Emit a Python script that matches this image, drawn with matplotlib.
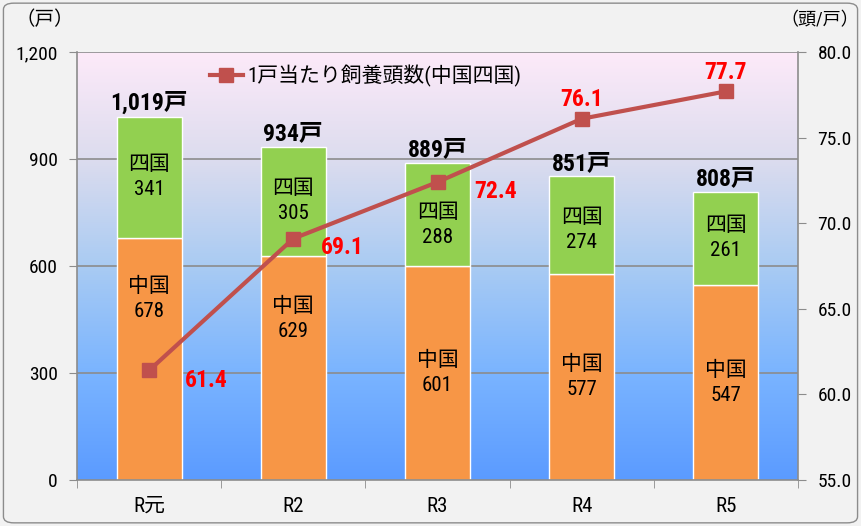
import matplotlib
matplotlib.use("Agg")
import matplotlib.pyplot as plt
import numpy as np
from matplotlib.patches import FancyBboxPatch
from matplotlib.colors import LinearSegmentedColormap
from matplotlib.ticker import FuncFormatter, FixedLocator
from matplotlib import font_manager

names = {f.name for f in font_manager.fontManager.ttflist}
NARROW = None
for cand in ['Liberation Sans Narrow', 'Roboto Condensed', 'Roboto']:
    if cand in names:
        NARROW = cand
        break
FAM = ([NARROW] if NARROW else []) + ['Noto Sans CJK JP', 'DejaVu Sans']
plt.rcParams['font.family'] = FAM

categories = ['R元', 'R2', 'R3', 'R4', 'R5']
chugoku = [678, 629, 601, 577, 547]
shikoku = [341, 305, 288, 274, 261]
totals = [1019, 934, 889, 851, 808]
per_farm = [61.4, 69.1, 72.4, 76.1, 77.7]

fig = plt.figure(figsize=(8.61, 5.26), dpi=100, facecolor='#f2f2f2')
border = FancyBboxPatch((0.004, 0.006), 0.992, 0.988, boxstyle="round,pad=0,rounding_size=0.012",
                        transform=fig.transFigure, facecolor='#f2f2f2', edgecolor='#8c8c8c', lw=1.0, zorder=-10)
fig.patches.append(border)

ax = fig.add_axes([77/861, 46/526, 721/861, 428/526])
ax.set_facecolor('none')
x = np.arange(len(categories))
ax.set_xlim(-0.5, len(categories) - 0.5)
ax.set_ylim(0, 1200)

cmap = LinearSegmentedColormap.from_list('bg', [(0, '#5b9bff'), (0.25, '#7ab4ff'), (0.5, '#a9cbf3'),
                                                (0.75, '#dcdcee'), (1, '#fdeaf9')])
grad = np.linspace(0, 1, 256).reshape(-1, 1)
ax.imshow(grad, extent=(-0.5, len(categories) - 0.5, 0, 1200), origin='lower', aspect='auto', cmap=cmap, zorder=0)

for yv in [300, 600, 900, 1200]:
    ax.axhline(yv, color='#8c8c8c', lw=1.2, zorder=1)

w = 0.45
ax.bar(x, chugoku, width=w, color='#f79646', edgecolor='white', lw=1, zorder=2)
ax.bar(x, shikoku, width=w, bottom=chugoku, color='#92d050', edgecolor='white', lw=1, zorder=2)

chu_label_y = [507, 451, None, None, None]
shi_label_y = [None, None, 715, 700, None]
for i in range(len(categories)):
    cy = chu_label_y[i] if chu_label_y[i] is not None else chugoku[i] / 2
    sy = shi_label_y[i] if shi_label_y[i] is not None else chugoku[i] + shikoku[i] / 2
    ax.text(x[i], cy, f'中国\n{chugoku[i]}', ha='center', va='center', fontsize=15,
            linespacing=1.4, zorder=3)
    ax.text(x[i], sy, f'四国\n{shikoku[i]}', ha='center', va='center', fontsize=15,
            linespacing=1.4, zorder=3)
    ax.text(x[i], totals[i] + 5, f'{totals[i]:,}戸', ha='center', va='bottom', fontsize=17,
            fontweight='bold', zorder=3)

ax.yaxis.set_major_locator(FixedLocator([0, 300, 600, 900, 1200]))
ax.yaxis.set_major_formatter(FuncFormatter(lambda v, p: f'{int(v):,}'))
ax.set_xticks(x)
ax.set_xticklabels(categories, fontsize=15)
ax.xaxis.set_minor_locator(FixedLocator(np.arange(-0.5, len(categories), 1)))
ax.tick_params(axis='x', which='major', length=0, pad=12)
ax.tick_params(axis='x', which='minor', length=6, color='#8c8c8c', direction='out')
ax.tick_params(axis='y', length=6, color='#8c8c8c', labelsize=14, pad=8)
for s in ['top', 'right']:
    ax.spines[s].set_visible(False)
ax.spines['left'].set_color('#8c8c8c')
ax.spines['bottom'].set_color('#8c8c8c')
ax.spines['left'].set_linewidth(1.2)
ax.spines['bottom'].set_linewidth(1.2)

ax2 = ax.twinx()
ax2.set_ylim(55, 80)
ax2.set_yticks([55, 60, 65, 70, 75, 80])
ax2.yaxis.set_major_formatter(FuncFormatter(lambda v, p: f'{v:.1f}'))
ax2.tick_params(axis='y', length=6, color='#8c8c8c', labelsize=14, pad=8)
for s in ['top', 'left', 'bottom']:
    ax2.spines[s].set_visible(False)
ax2.spines['right'].set_color('#8c8c8c')
ax2.spines['right'].set_linewidth(1.2)

line, = ax2.plot(x, per_farm, color='#c0504d', lw=3, marker='s', markersize=10, zorder=5,
                 label='1戸当たり飼養頭数(中国四国)')
offsets = [(0.4, -0.6), (0.34, -0.5), (0.4, -0.52), (0.0, 1.1), (0.0, 1.13)]
for i, v in enumerate(per_farm):
    dx, dy = offsets[i]
    ax2.text(x[i] + dx, v + dy, f'{v:.1f}', color='#ff0000', fontsize=17, fontweight='bold',
             ha='center', va='center', zorder=6)

ax2.legend(handles=[line], loc='center', bbox_to_anchor=(0.40, 0.945), frameon=False,
           fontsize=15, handlelength=1.6, handletextpad=0.2)

fig.text(45/861, 1 - 20/526, '（戸）', ha='center', va='center', fontsize=14)
fig.text(820/861, 1 - 20/526, '（頭/戸）', ha='center', va='center', fontsize=13)

fig.savefig('out.png', dpi=100, facecolor=fig.get_facecolor())
